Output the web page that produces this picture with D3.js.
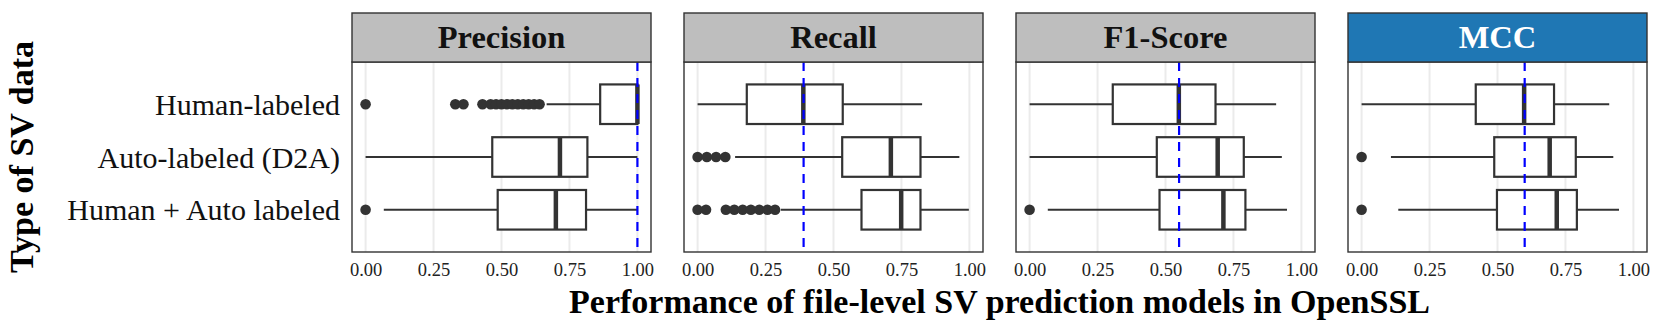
<!DOCTYPE html>
<html>

<head>
    <meta charset="utf-8">
    <style>
        body {
            margin: 0;
            background: #fff;
        }

        svg {
            font-family: 'Liberation Serif', 'DejaVu Serif', serif;
        }

        .grid line {
            stroke: #ebebeb;
            stroke-width: 2;
        }

        .x .domain,
        .x .tick line {
            display: none;
        }

        .x .tick text {
            font-family: 'Liberation Serif', serif;
            font-size: 18.5px;
            fill: #222;
        }

        .strip-label {
            font-size: 32.5px;
            font-weight: bold;
        }

        .cat-label {
            font-size: 30px;
            fill: #111;
        }

        .axis-title {
            font-size: 34px;
            font-weight: bold;
        }
    </style>
</head>

<body>
    <svg width="1661" height="332"></svg>

    <script src="https://d3js.org/d3.v7.min.js"></script>

    <script>
        // facets and rows
        let metrics = ["Precision", "Recall", "F1-Score", "MCC"]
        let groups = ["Human-labeled", "Auto-labeled (D2A)", "Human + Auto labeled"]

        // box stats per group: [lower whisker, q1, median, q3, upper whisker]
        let precisionStats = [
            [0.666, 0.863, 1.0, 1.0, 1.0],
            [0.0, 0.466, 0.715, 0.816, 1.0],
            [0.067, 0.486, 0.70, 0.811, 1.0]
        ]
        let recallStats = [
            [0.0, 0.181, 0.389, 0.534, 0.826],
            [0.138, 0.532, 0.711, 0.820, 0.963],
            [0.306, 0.603, 0.749, 0.820, 0.998]
        ]
        let f1Stats = [
            [0.0, 0.306, 0.549, 0.684, 0.907],
            [0.0, 0.468, 0.692, 0.788, 0.928],
            [0.067, 0.478, 0.713, 0.794, 0.947]
        ]
        let mccStats = [
            [0.0, 0.420, 0.598, 0.708, 0.911],
            [0.108, 0.488, 0.692, 0.788, 0.926],
            [0.135, 0.498, 0.718, 0.792, 0.947]
        ]

        // outliers per group
        let precisionOutliers = [
            [0.0, 0.33, 0.36, 0.43, 0.46, 0.48, 0.50, 0.52, 0.54, 0.56, 0.58, 0.60, 0.62, 0.64],
            [],
            [0.0]
        ]
        let recallOutliers = [
            [],
            [0.0, 0.034, 0.068, 0.102],
            [0.0, 0.031, 0.104, 0.135, 0.166, 0.196, 0.227, 0.257, 0.285]
        ]
        let f1Outliers = [[], [], [0.0]]
        let mccOutliers = [[], [0.0], [0.0]]

        // dashed reference line for each facet
        let refValues = [1.0, 0.39, 0.55, 0.60]

        let tickValues = [0, 0.25, 0.5, 0.75, 1]

        let allStats = [precisionStats, recallStats, f1Stats, mccStats]
        let allOutliers = [precisionOutliers, recallOutliers, f1Outliers, mccOutliers]

        let svg = d3.select("svg")

        let margin = { top: 13, left: 352, bottom: 80 }
        let panelW = 299
        let gap = 33
        let stripH = 49
        let panelTop = margin.top + stripH
        let panelBottom = 252

        let x = d3.scaleLinear()
            .domain([-0.05, 1.05])
            .range([0, panelW])

        let y = d3.scaleBand()
            .domain(groups)
            .range([panelTop, panelBottom])
            .paddingInner(0.25)
            .paddingOuter(0.425)

        let boxH = y.bandwidth()

        metrics.forEach((m, i) => {
            let g = svg.append("g")
                .attr("transform", `translate(${margin.left + i * (panelW + gap)},0)`)

            // grid
            g.append("g")
                .attr("class", "grid")
                .selectAll("line")
                .data(tickValues)
                .join("line")
                .attr("x1", d => x(d))
                .attr("x2", d => x(d))
                .attr("y1", panelTop)
                .attr("y2", panelBottom)

            // x axis
            g.append("g")
                .attr("class", "x axis")
                .attr("transform", `translate(0,${panelBottom})`)
                .call(d3.axisBottom(x).tickValues(tickValues).tickFormat(d3.format(".2f")).tickSize(0).tickPadding(11))
                .attr("font-family", null)
                .attr("font-size", null)

            // boxes
            let stats = allStats[i]
            let rows = g.append("g").selectAll("g")
                .data(groups)
                .join("g")
                .attr("transform", d => `translate(0,${y(d)})`)

            rows.append("line")
                .attr("x1", (d, j) => x(stats[j][0]))
                .attr("x2", (d, j) => x(stats[j][1]))
                .attr("y1", boxH / 2).attr("y2", boxH / 2)
                .attr("stroke", "#333").attr("stroke-width", 1.9)

            rows.append("line")
                .attr("x1", (d, j) => x(stats[j][3]))
                .attr("x2", (d, j) => x(stats[j][4]))
                .attr("y1", boxH / 2).attr("y2", boxH / 2)
                .attr("stroke", "#333").attr("stroke-width", 1.9)

            rows.append("rect")
                .attr("x", (d, j) => x(stats[j][1]))
                .attr("width", (d, j) => x(stats[j][3]) - x(stats[j][1]))
                .attr("y", 0)
                .attr("height", boxH)
                .attr("fill", "white")
                .attr("stroke", "#333")
                .attr("stroke-width", 2.2)

            rows.append("line")
                .attr("x1", (d, j) => x(stats[j][2]))
                .attr("x2", (d, j) => x(stats[j][2]))
                .attr("y1", 0).attr("y2", boxH)
                .attr("stroke", "#333").attr("stroke-width", 4.5)

            rows.each(function (d, j) {
                d3.select(this).selectAll("circle")
                    .data(allOutliers[i][j])
                    .join("circle")
                    .attr("cx", v => x(v))
                    .attr("cy", boxH / 2)
                    .attr("r", 5.3)
                    .attr("fill", "#333")
            })

            // reference line
            g.append("line")
                .attr("x1", x(refValues[i]))
                .attr("x2", x(refValues[i]))
                .attr("y1", panelTop)
                .attr("y2", panelBottom)
                .attr("stroke", "#0000ff")
                .attr("stroke-width", 2.2)
                .attr("stroke-dasharray", "9,7")

            // panel border
            g.append("rect")
                .attr("x", 0).attr("y", panelTop)
                .attr("width", panelW).attr("height", panelBottom - panelTop)
                .attr("fill", "none")
                .attr("stroke", "#333")
                .attr("stroke-width", 1.4)

            // strip
            let isMcc = m == "MCC"
            g.append("rect")
                .attr("x", 0).attr("y", margin.top)
                .attr("width", panelW).attr("height", stripH)
                .attr("fill", isMcc ? "#1f77b4" : "#bebebe")
                .attr("stroke", "#333")
                .attr("stroke-width", 1.4)

            g.append("text")
                .attr("class", "strip-label")
                .attr("x", panelW / 2)
                .attr("y", margin.top + stripH / 2 + 10)
                .attr("text-anchor", "middle")
                .attr("fill", isMcc ? "white" : "#111")
                .text(m)
        })

        // category labels
        svg.append("g")
            .selectAll("text")
            .data(groups)
            .join("text")
            .attr("class", "cat-label")
            .attr("x", margin.left - 12)
            .attr("y", d => y(d) + boxH / 2)
            .attr("dy", "0.35em")
            .attr("text-anchor", "end")
            .text(d => d)

        // axis titles
        svg.append("text")
            .attr("class", "axis-title")
            .attr("x", margin.left + (4 * panelW + 3 * gap) / 2)
            .attr("y", 313)
            .attr("text-anchor", "middle")
            .text("Performance of file-level SV prediction models in OpenSSL")

        svg.append("text")
            .attr("class", "axis-title")
            .attr("transform", `translate(33,${(panelTop + panelBottom) / 2}) rotate(-90)`)
            .attr("text-anchor", "middle")
            .text("Type of SV data")
    </script>
</body>

</html>
